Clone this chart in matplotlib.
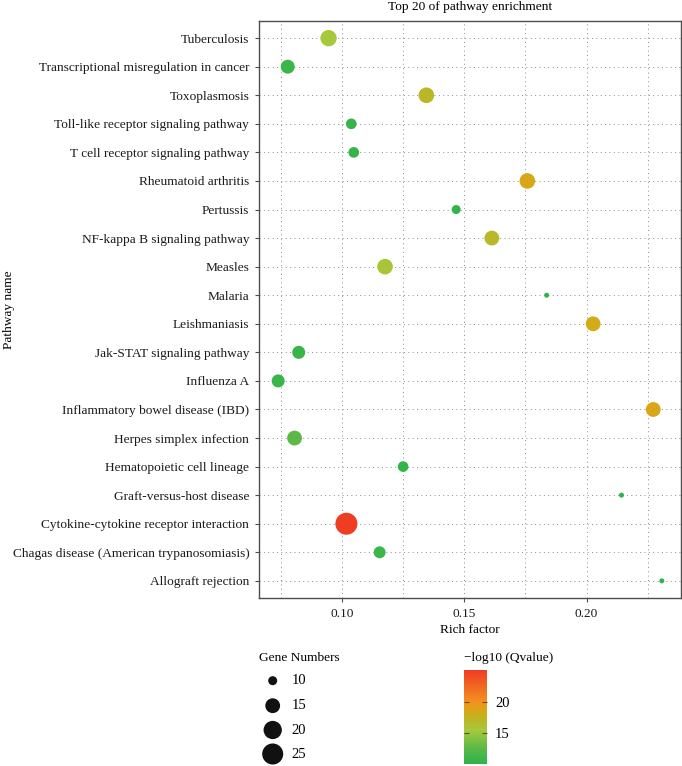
import numpy as np
import matplotlib.pyplot as plt
from matplotlib.colors import LinearSegmentedColormap, Normalize

plt.rcParams['font.family'] = ['Liberation Serif', 'DejaVu Serif']

# top to bottom as in the chart
pathways = [
    'Tuberculosis',
    'Transcriptional misregulation in cancer',
    'Toxoplasmosis',
    'Toll-like receptor signaling pathway',
    'T cell receptor signaling pathway',
    'Rheumatoid arthritis',
    'Pertussis',
    'NF-kappa B signaling pathway',
    'Measles',
    'Malaria',
    'Leishmaniasis',
    'Jak-STAT signaling pathway',
    'Influenza A',
    'Inflammatory bowel disease (IBD)',
    'Herpes simplex infection',
    'Hematopoietic cell lineage',
    'Graft-versus-host disease',
    'Cytokine-cytokine receptor interaction',
    'Chagas disease (American trypanosomiasis)',
    'Allograft rejection',
]
rich_factor = [0.0945, 0.0778, 0.1345, 0.1038, 0.1048, 0.1758, 0.1467, 0.1613, 0.1176, 0.1837,
               0.2027, 0.0823, 0.0739, 0.2273, 0.0806, 0.1250, 0.2143, 0.1018, 0.1154, 0.2308]
gene_numbers = [17, 14, 16, 11, 11, 16, 10, 15, 16, 9,
                15, 13, 13, 15, 15, 11, 9, 27, 12, 9]
neg_log_q = [15.6, 11.0, 17.2, 10.6, 10.5, 18.6, 10.3, 17.0, 15.8, 10.05,
             18.4, 10.7, 10.8, 18.7, 12.6, 10.4, 10.1, 25.2, 10.9, 10.2]

size_breaks = [10, 15, 20, 25]
color_ticks = [15, 20]
x_ticks = [0.10, 0.15, 0.20]
x_minor = [0.075, 0.125, 0.175, 0.225]

cmap = LinearSegmentedColormap.from_list('q', [
    (0.00, '#2db34a'), (0.17, '#5cb947'), (0.36, '#a5c93b'), (0.47, '#bbb626'),
    (0.565, '#d6a816'), (0.66, '#f3921e'), (1.00, '#ee3d23')])
norm = Normalize(min(neg_log_q), max(neg_log_q))

gmin, gmax = min(gene_numbers), max(gene_numbers)
FS = 9.6


def point_size(g):
    # area scale like ggplot's scale_size (range 1..6), returned as pt^2
    g = np.asarray(g, dtype=float)
    size = 1 + 5 * np.sqrt(np.clip((g - gmin) / (gmax - gmin), 0, None))
    d_px = 3.4 * size + 1.6
    return (d_px * 0.72) ** 2


fig = plt.figure(figsize=(6.82, 7.66), dpi=100)
W, H = 682, 766
ax = fig.add_axes([259 / W, 1 - 598 / H, 422 / W, 577 / H])

y = np.arange(len(pathways))
sc = ax.scatter(rich_factor, y, s=point_size(gene_numbers), c=neg_log_q,
                cmap=cmap, norm=norm, linewidths=0, zorder=3)

ax.set_yticks(y)
ax.set_yticklabels(pathways, fontsize=FS, color='#1a1a1a')
ax.set_ylim(len(pathways) - 0.4, -0.6)
xr = max(rich_factor) - min(rich_factor)
ax.set_xlim(min(rich_factor) - 0.05 * xr, max(rich_factor) + 0.05 * xr)
ax.set_xticks(x_ticks)
ax.set_xticklabels(['%.2f' % v for v in x_ticks], fontsize=FS, color='#1a1a1a')
ax.set_xticks(x_minor, minor=True)

ax.grid(which='both', axis='x', linestyle=(0, (1, 3.5)), color='#8c8c8c', linewidth=0.7)
ax.grid(which='major', axis='y', linestyle=(0, (1, 3.5)), color='#8c8c8c', linewidth=0.7)
ax.set_axisbelow(True)
ax.tick_params(which='major', length=3, width=0.8, color='#4d4d4d', pad=4)
ax.tick_params(which='minor', length=0)
for sp in ax.spines.values():
    sp.set_color('#4d4d4d')
    sp.set_linewidth(1.0)

ax.set_xlabel('Rich factor', fontsize=FS, labelpad=3)
fig.text(9 / W, 1 - 309.5 / H, 'Pathway name', rotation=90, va='center', ha='center', fontsize=FS)
fig.text(470 / W, 1 - 7 / H, 'Top 20 of pathway enrichment', va='center', ha='center', fontsize=FS)

# size legend
fig.text(259 / W, 1 - 658 / H, 'Gene Numbers', va='center', ha='left', fontsize=FS)
lax = fig.add_axes([250 / W, 0, 100 / W, 100 / H])
lax.set_xlim(0, 1)
lax.set_ylim(0, 1)
lax.axis('off')
key_y = [0.853, 0.603, 0.36, 0.12]
lax.scatter([0.227] * len(size_breaks), key_y, s=point_size(size_breaks), color='#111111', linewidths=0)
for yy, b in zip(key_y, size_breaks):
    lax.text(0.417, yy, str(b), va='center', ha='left', fontsize=10.5)

# colour bar
fig.text(464 / W, 1 - 658 / H, '\u2212log10 (Qvalue)', va='center', ha='left', fontsize=FS)
cax = fig.add_axes([464.3 / W, 1 - 764 / H, 22.4 / W, 93.7 / H])
cb = fig.colorbar(sc, cax=cax, ticks=color_ticks)
cb.outline.set_visible(False)
cax.tick_params(length=3.5, width=0.8, direction='in', color='#6b4b1a', left=True, right=True,
                pad=6, labelsize=10.5)

fig.savefig('out.png', dpi=100)
